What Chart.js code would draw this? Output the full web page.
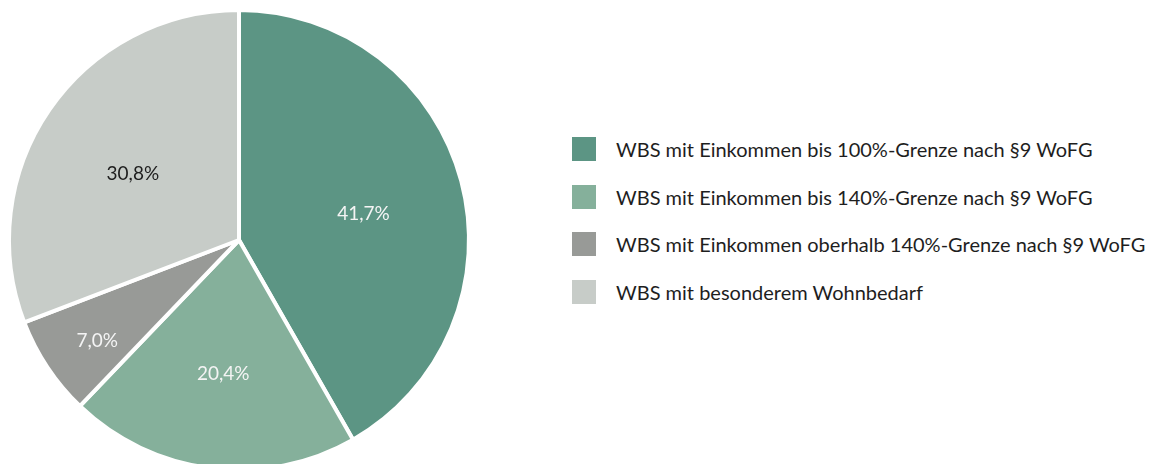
<!DOCTYPE html>
<html>
<head>
<meta charset="utf-8">
<script src="https://cdn.jsdelivr.net/npm/chart.js@4"></script>
<style>
    html, body { margin: 0; padding: 0; background: #fff; }
    #wrap { position: relative; width: 1163px; height: 464px; overflow: hidden; }
    #pie { position: absolute; left: 0; top: 0; }
    #legend { position: absolute; left: 572px; top: 137px; font-family: Lato, sans-serif; font-size: 20px; color: #1e1e1e; }
    .item { display: flex; align-items: center; height: 24px; margin-bottom: 23.5px; white-space: nowrap; }
    .box { width: 24px; height: 24px; margin-right: 20px; flex: none; }
</style>
</head>
<body>
<div id="wrap">
    <canvas id="pie" width="480" height="480"></canvas>
    <div id="legend"></div>
</div>
<script>
const categories = [
    'WBS mit Einkommen bis 100%-Grenze nach §9 WoFG',
    'WBS mit Einkommen bis 140%-Grenze nach §9 WoFG',
    'WBS mit Einkommen oberhalb 140%-Grenze nach §9 WoFG',
    'WBS mit besonderem Wohnbedarf'
];
const shares = [41.7, 20.4, 7.0, 30.8];
const colors = ['#5c9584', '#85b09b', '#989a97', '#c7ccc8'];
const labelColors = ['#f4f4f4', '#f4f4f4', '#f4f4f4', '#1e1e1e'];

const fmt = v => v.toLocaleString('de-DE', { minimumFractionDigits: 1, maximumFractionDigits: 1 }) + '%';

// draws the percentages inside the slices
const sliceLabels = {
    id: 'sliceLabels',
    afterDatasetsDraw(chart) {
        const ctx = chart.ctx;
        const meta = chart.getDatasetMeta(0);
        const total = shares.reduce((a, b) => a + b, 0);
        ctx.save();
        ctx.font = '19px Lato, sans-serif';
        ctx.textAlign = 'center';
        ctx.textBaseline = 'top';
        meta.data.forEach((arc, i) => {
            const p = arc.getProps(['x', 'y', 'startAngle', 'endAngle', 'outerRadius'], true);
            const mid = (p.startAngle + p.endAngle) / 2;
            const f = shares[i] / total < 0.1 ? 0.74 : 0.56;
            ctx.fillStyle = labelColors[i];
            ctx.fillText(fmt(shares[i]), p.x + Math.cos(mid) * p.outerRadius * f, p.y + Math.sin(mid) * p.outerRadius * f - 3);
        });
        ctx.restore();
    }
};

const chart = new Chart(document.getElementById('pie').getContext('2d'), {
    type: 'pie',
    data: {
        labels: categories,
        datasets: [{
            data: shares,
            backgroundColor: colors,
            borderColor: '#ffffff',
            borderWidth: 4
        }]
    },
    options: {
        responsive: false,
        animation: false,
        layout: { padding: { left: 7, right: 9, top: 8, bottom: 8 } },
        plugins: {
            legend: { display: false },
            tooltip: { enabled: false }
        }
    },
    plugins: [sliceLabels]
});

const legend = document.getElementById('legend');
chart.options.plugins.legend.labels.generateLabels(chart).forEach(item => {
    const row = document.createElement('div');
    row.className = 'item';
    const box = document.createElement('span');
    box.className = 'box';
    box.style.background = item.fillStyle;
    const text = document.createElement('span');
    text.textContent = item.text;
    row.appendChild(box);
    row.appendChild(text);
    legend.appendChild(row);
});
</script>
</body>
</html>
